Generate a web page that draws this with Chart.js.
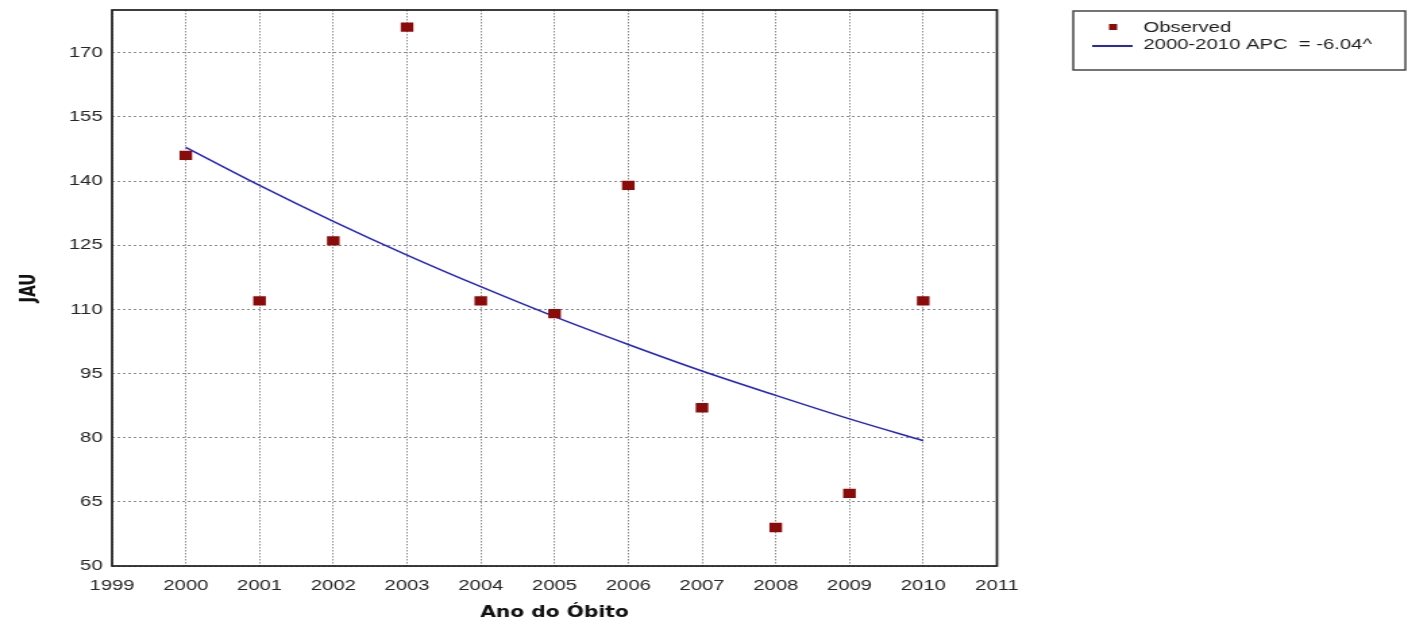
<!DOCTYPE html>
<html>
<head>
<meta charset="utf-8">
<script src="https://cdn.jsdelivr.net/npm/chart.js@4/dist/chart.umd.min.js"></script>
<style>
  html, body { margin: 0; padding: 0; background: #ffffff; overflow: hidden; }
  #wrap { width: 1043px; height: 629px; transform: scaleX(1.35); transform-origin: 0 0; }
  canvas { display: block; }
</style>
</head>
<body>
<div id="wrap"><canvas id="c" width="1043" height="629"></canvas></div>
<script>
// Death counts by year (JAU) and the fitted joinpoint trend
const years    = [2000, 2001, 2002, 2003, 2004, 2005, 2006, 2007, 2008, 2009, 2010];
const observed = [146, 112, 126, 176, 112, 109, 139, 87, 59, 67, 112];
const fitted   = [147.9, 139.0, 130.6, 122.7, 115.3, 108.3, 101.8, 95.6, 89.9, 84.4, 79.3];

const xTicks = [1999, 2000, 2001, 2002, 2003, 2004, 2005, 2006, 2007, 2008, 2009, 2010, 2011];
const yTicks = [50, 65, 80, 95, 110, 125, 140, 155, 170];

const observedLabel = 'Observed';
const trendLabel = '2000-2010 APC  = -6.04^';
const xTitle = 'Ano do \u00d3bito';
const yTitle = 'JAU';

const markerColor = '#8b0a0a';
const lineColor = '#2525c8';
const tickFont = { family: '"Liberation Sans", Arial, sans-serif', size: 15 };
const titleFont = { family: '"DejaVu Sans", Verdana, sans-serif', size: 15, weight: 'bold' };

// Plot frame and the boxed legend at top right
const decorPlugin = {
  id: 'decor',
  beforeDatasetsDraw(chart) {
    const { ctx, chartArea: a } = chart;
    ctx.save();
    ctx.strokeStyle = '#1c1c1c';
    ctx.lineWidth = 1.7;
    ctx.strokeRect(a.left, a.top, a.right - a.left, a.bottom - a.top);
    ctx.restore();
  },
  afterDraw(chart) {
    const { ctx } = chart;
    const ds = chart.data.datasets;
    ctx.save();
    // legend box
    ctx.strokeStyle = '#3a3a3a';
    ctx.lineWidth = 1.4;
    ctx.strokeRect(795, 11, 246, 59);
    // observed marker
    ctx.fillStyle = ds[0].backgroundColor;
    ctx.fillRect(821.5, 24, 6, 6);
    // trend line sample
    ctx.strokeStyle = ds[1].borderColor;
    ctx.lineWidth = 2;
    ctx.beginPath();
    ctx.moveTo(809, 46);
    ctx.lineTo(839, 46);
    ctx.stroke();
    // labels
    ctx.fillStyle = '#1e1e1e';
    ctx.font = tickFont.size + 'px ' + tickFont.family;
    ctx.textAlign = 'left';
    ctx.textBaseline = 'middle';
    ctx.fillText(ds[0].label, 847, 28);
    ctx.fillText(ds[1].label, 847, 45);
    ctx.restore();
  }
};

new Chart(document.getElementById('c'), {
  type: 'scatter',
  data: {
    datasets: [
      {
        label: observedLabel,
        data: years.map((x, i) => ({ x, y: observed[i] })),
        showLine: false,
        pointStyle: 'rect',
        pointRadius: 6.6,
        pointHoverRadius: 6.6,
        backgroundColor: markerColor,
        borderColor: markerColor,
        borderWidth: 0
      },
      {
        label: trendLabel,
        data: years.map((x, i) => ({ x, y: fitted[i] })),
        showLine: true,
        pointRadius: 0,
        borderColor: lineColor,
        backgroundColor: lineColor,
        borderWidth: 1.5,
        tension: 0.4,
        cubicInterpolationMode: 'monotone'
      }
    ]
  },
  options: {
    responsive: false,
    animation: false,
    devicePixelRatio: 1,
    layout: { padding: { left: 0, right: 304.5, top: 10, bottom: 0 } },
    plugins: { legend: { display: false }, tooltip: { enabled: false } },
    scales: {
      x: {
        type: 'linear',
        min: 1999,
        max: 2011,
        afterBuildTicks: s => { s.ticks = xTicks.map(v => ({ value: v })); },
        afterFit: s => { s.height = 63; },
        grid: { color: '#8c8c8c', lineWidth: 1, drawTicks: false },
        border: { display: false, dash: [1.5, 1.5] },
        ticks: {
          padding: 11,
          color: '#262626',
          font: tickFont,
          maxRotation: 0,
          autoSkip: false,
          callback: v => String(v)
        },
        title: {
          display: true,
          text: xTitle,
          color: '#111111',
          font: titleFont,
          padding: { top: 0, bottom: 7 }
        }
      },
      y: {
        type: 'linear',
        min: 50,
        max: 180,
        afterBuildTicks: s => { s.ticks = yTicks.map(v => ({ value: v })); },
        afterFit: s => { s.width = 83; s.paddingTop = 0; s.paddingBottom = 0; },
        grid: { color: '#8c8c8c', lineWidth: 1, drawTicks: false },
        border: { display: false, dash: [2, 2] },
        ticks: {
          padding: 7,
          color: '#262626',
          font: tickFont,
          autoSkip: false,
          callback: v => String(v)
        },
        title: {
          display: true,
          text: yTitle,
          color: '#111111',
          font: titleFont,
          padding: { top: 13, bottom: 0 }
        }
      }
    }
  },
  plugins: [decorPlugin]
});
</script>
</body>
</html>
